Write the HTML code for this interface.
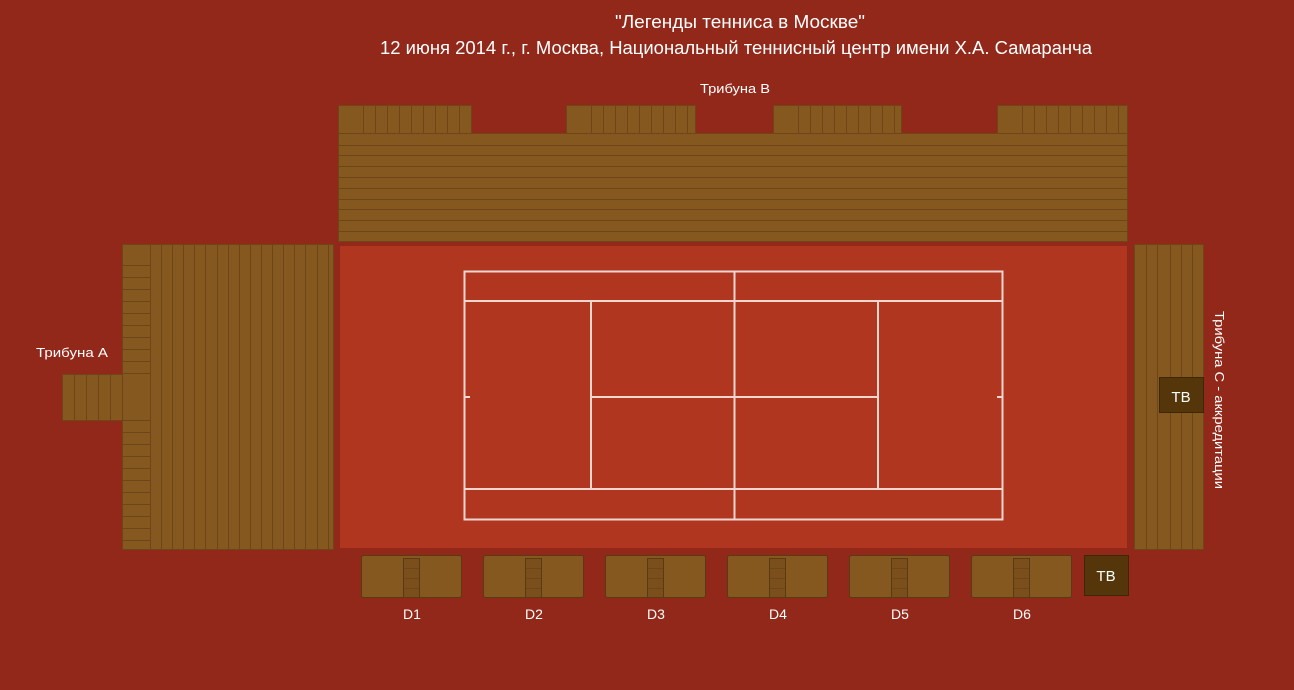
<!DOCTYPE html>
<html><head><meta charset="utf-8"><style>
html,body{margin:0;padding:0;background:#92281a;}
svg{display:block;font-family:"Liberation Sans","DejaVu Sans",sans-serif;}
</style></head><body>
<svg id="map" width="1294" height="690" viewBox="0 0 1294 690" xmlns="http://www.w3.org/2000/svg">
<rect x="0" y="0" width="1294" height="690" fill="#92281a"/>
<text x="740" y="28" text-anchor="middle" font-size="18" fill="#fff" textLength="250" lengthAdjust="spacingAndGlyphs">"Легенды тенниса в Москве"</text>
<text x="736" y="54" text-anchor="middle" font-size="18" fill="#fff" textLength="712" lengthAdjust="spacingAndGlyphs">12 июня 2014 г., г. Москва, Национальный теннисный центр имени Х.А. Самаранча</text>
<text x="735" y="93" text-anchor="middle" font-size="13" fill="#fff" textLength="70" lengthAdjust="spacingAndGlyphs">Трибуна В</text>
<text x="72" y="357" text-anchor="middle" font-size="13" fill="#fff" textLength="72" lengthAdjust="spacingAndGlyphs">Трибуна А</text>
<text transform="translate(1215,400) rotate(90)" text-anchor="middle" font-size="13" fill="#fff" textLength="178" lengthAdjust="spacingAndGlyphs">Трибуна С - аккредитации</text>
<g id="stands"></g>
<rect x="340" y="246" width="787" height="302" fill="#b0361f"/>
<g id="court" stroke="#f1d6d0" stroke-width="2" fill="none">
<rect x="464.5" y="271.5" width="538" height="248"/>
<line x1="464" y1="301" x2="1003" y2="301"/>
<line x1="464" y1="489" x2="1003" y2="489"/>
<line x1="591" y1="301" x2="591" y2="489"/>
<line x1="878" y1="301" x2="878" y2="489"/>
<line x1="734.5" y1="271" x2="734.5" y2="519"/>
<line x1="591" y1="397" x2="878" y2="397"/>
<line x1="464" y1="397" x2="470" y2="397"/>
<line x1="997" y1="397" x2="1003" y2="397"/>
</g>
<g id="boxes"></g>
</svg>
<script>
const NS="http://www.w3.org/2000/svg";
const FILL="#85581f", LINE="#6e4516";
const stands=document.getElementById('stands');
const boxes=document.getElementById('boxes');
function rect(p,x,y,w,h,fill,stroke,name){
  const r=document.createElementNS(NS,'rect');
  r.setAttribute('x',x);r.setAttribute('y',y);r.setAttribute('width',w);r.setAttribute('height',h);
  r.setAttribute('fill',fill);if(stroke){r.setAttribute('stroke',stroke);r.setAttribute('stroke-width',1);}
  
  
  p.appendChild(r);return r;
}
function line(p,x1,y1,x2,y2,name){
  const l=document.createElementNS(NS,'line');
  l.setAttribute('x1',x1);l.setAttribute('y1',y1);l.setAttribute('x2',x2);l.setAttribute('y2',y2);
  l.setAttribute('stroke',LINE);l.setAttribute('stroke-width',1);
  
  
  p.appendChild(l);
}
function text(p,x,y,s,size,name){
  const t=document.createElementNS(NS,'text');
  t.setAttribute('x',x);t.setAttribute('y',y);t.setAttribute('text-anchor','middle');
  t.setAttribute('font-size',size);t.setAttribute('fill','#fff');t.textContent=s;
  
  
  p.appendChild(t);
}
// Stand B
rect(stands,338.5,133.5,789,108,FILL,LINE,'stand-b-main');
for(let y=144.5;y<240;y+=10.8) line(stands,339,Math.round(y)+.5,1127,Math.round(y)+.5,'stand-b-row');
[[338,471],[566,695],[773,901],[997,1127]].forEach(([a,b])=>{
  rect(stands,a+.5,105.5,b-a,28,FILL,LINE,'stand-b-block');
  for(let x=a+25;x<b-4;x+=12) line(stands,Math.round(x)+.5,106,Math.round(x)+.5,133,'stand-b-block-seat');
});
// Stand A
rect(stands,122.5,244.5,211,305,FILL,LINE,'stand-a-main');
for(let x=150;x<330;x+=11.1) line(stands,Math.round(x)+.5,245,Math.round(x)+.5,549,'stand-a-column');
for(let y=265;y<374;y+=12) line(stands,123,y+.5,150,y+.5,'stand-a-side-row');
for(let y=420;y<545;y+=12) line(stands,123,y+.5,150,y+.5,'stand-a-side-row');
rect(stands,62.5,374.5,60,46,FILL,LINE,'stand-a-extension');
for(let x=74;x<122;x+=12) line(stands,x+.5,375,x+.5,420,'stand-a-extension-seat');
line(stands,122.5,375,122.5,420,'stand-a-extension-edge');
// Stand C
rect(stands,1134.5,244.5,69,305,FILL,LINE,'stand-c-main');
[1146,1157,1170,1181,1192].forEach(x=>line(stands,x+.5,245,x+.5,549,'stand-c-column'));
rect(stands,1159.5,377.5,44,35,'#55360a','#3e2706','tv-box-c');
text(stands,1181,402,'ТВ',15,'tv-label-c');
// Boxes D
const labels=['D1','D2','D3','D4','D5','D6'];
labels.forEach((lab,i)=>{
  const x=361+i*122;
  const r=rect(boxes,x+.5,555.5,100,42,FILL,'#5a3a12','box-'+lab.toLowerCase());
  r.setAttribute('rx',2);
  rect(boxes,x+42.5,558.5,16,39,'#7a4f1b','#5a3a12','box-aisle');
  [568,578,588].forEach(y=>line(boxes,x+43,y+.5,x+58,y+.5,'box-aisle-step'));
  text(boxes,x+51,619,lab,14,'box-label-'+lab.toLowerCase());
});
rect(boxes,1084.5,555.5,44,40,'#55360a','#3e2706','tv-box-bottom');
text(boxes,1106,581,'ТВ',15,'tv-label-bottom');
</script>
</body></html>
